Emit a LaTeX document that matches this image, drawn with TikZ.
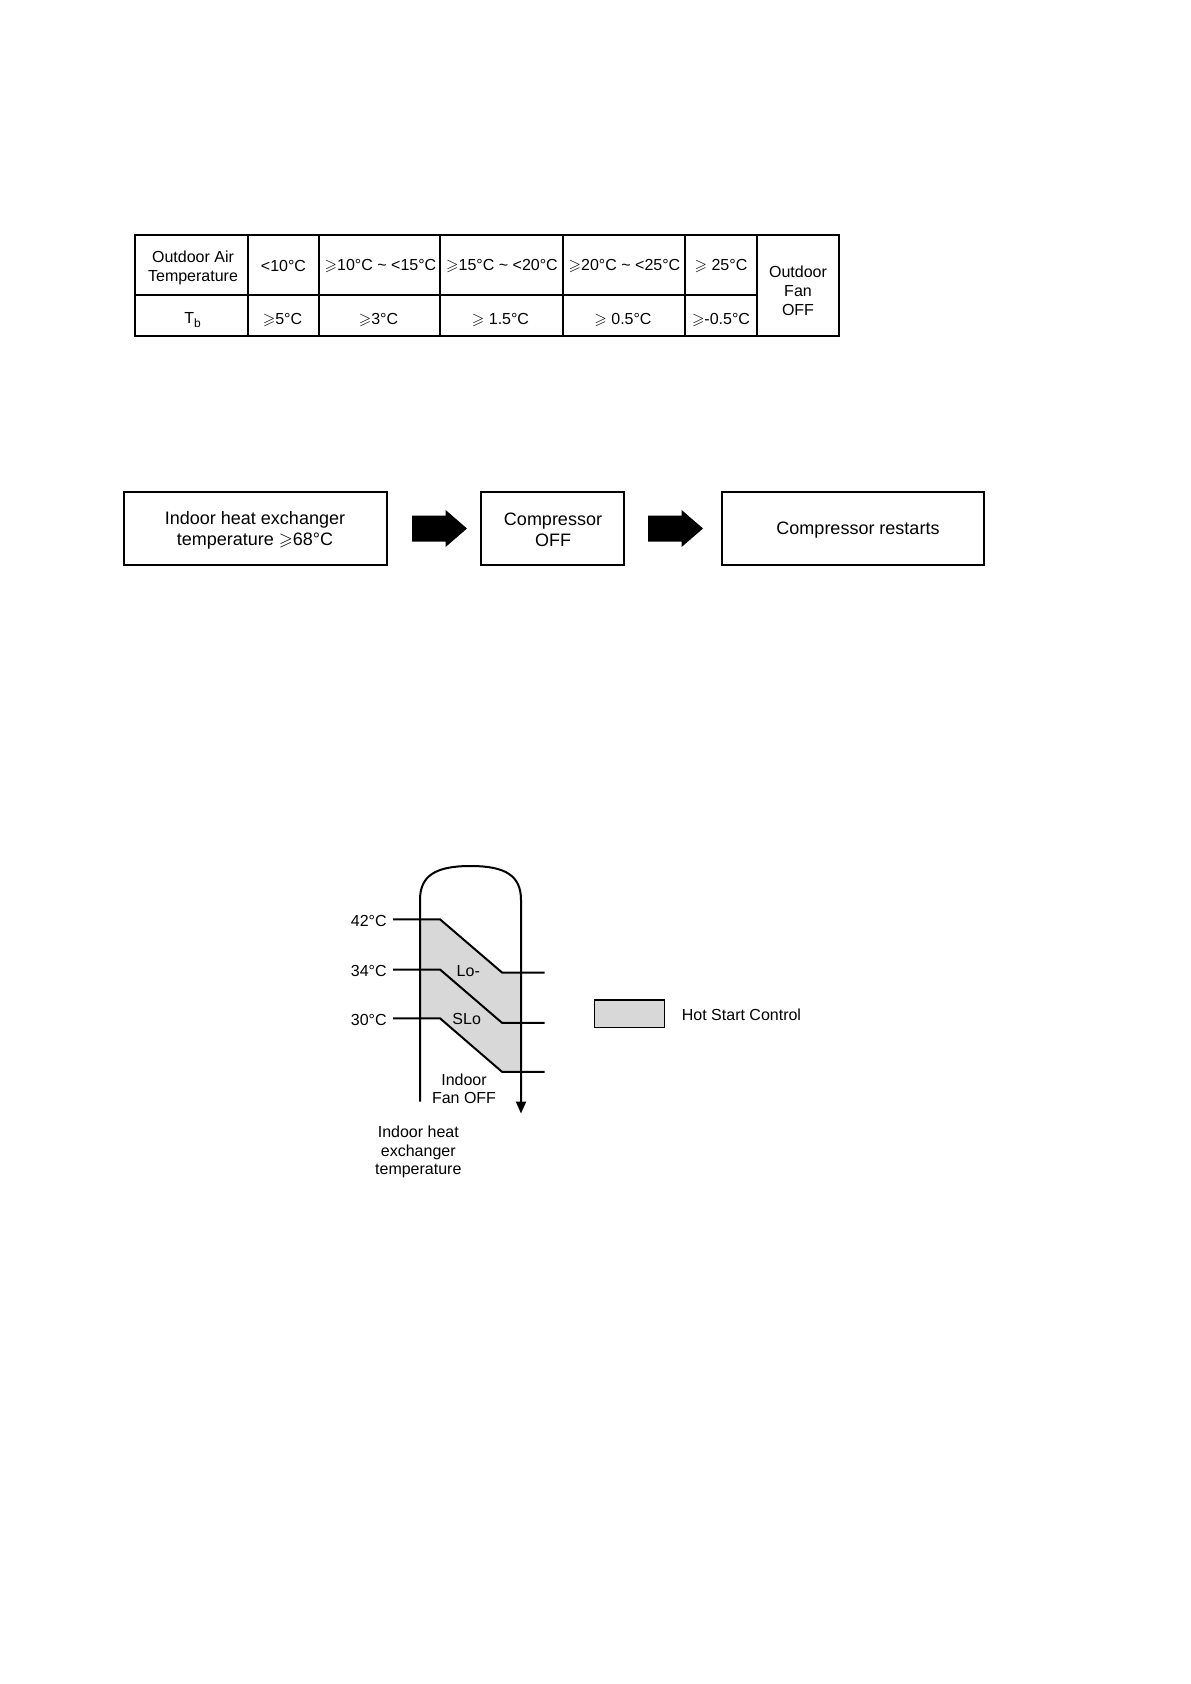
\documentclass[tikz,border=0pt]{standalone}
\usepackage{fontspec}
\usepackage{amssymb}
\setmainfont{Liberation Sans}
\usetikzlibrary{arrows.meta}
\newcommand{\gsl}{$\geqslant$}
\definecolor{hsgray}{RGB}{216,216,216}
\begin{document}
\begin{tikzpicture}[x=0.5pt,y=-0.5pt,
  tline/.style={line width=0.75pt},
  ttext/.style={font=\fontsize{8}{9.5}\selectfont, align=center, inner sep=0pt},
  flowbox/.style={draw, line width=1pt, minimum height=36.5pt, align=center,
     font=\fontsize{9}{10.5}\selectfont, inner sep=0pt},
  blockarrow/.style={fill=black, draw=none},
  cline/.style={line width=1pt},
  clabel/.style={font=\fontsize{8}{9.2}\selectfont, align=center, inner sep=0pt}]
\useasboundingbox (0,0) rectangle (1190,1684);
\fill[white] (0,0) rectangle (1190,1684);

% ---------- table ----------
\draw[tline] (135,235) rectangle (839,336);
\draw[tline] (135,295) -- (757,295);
\foreach \x in {248,319,440,563,685,757} \draw[tline] (\x,235) -- (\x,336);

\node[ttext] (h0) at (193,267.5) {Outdoor Air\\Temperature};
\node[ttext] (h1) at (283.5,266) {<10°C};
\node[ttext] (h2) at (380.5,266) {\gsl10°C \textasciitilde{} <15°C};
\node[ttext] (h3) at (502,266) {\gsl15°C \textasciitilde{} <20°C};
\node[ttext] (h4) at (624.5,266) {\gsl20°C \textasciitilde{} <25°C};
\node[ttext] (h5) at (721,266) {\gsl{} 25°C};
\node[ttext] (h6) at (798,290.5) {Outdoor\\Fan\\OFF};
\node[ttext] (r0) at (193,320) {T\textsubscript{b}};
\node[ttext] (r1) at (282.5,320) {\gsl5°C};
\node[ttext] (r2) at (378.5,320) {\gsl3°C};
\node[ttext] (r3) at (500.5,320) {\gsl{} 1.5°C};
\node[ttext] (r4) at (623,320) {\gsl{} 0.5°C};
\node[ttext] (r5) at (721,320) {\gsl-0.5°C};

% ---------- flow ----------
\node[flowbox, minimum width=131.5pt] (b1) at (255,528.5) {};
\node[font=\fontsize{9}{10.5}\selectfont, align=center, inner sep=0pt] (b1t) at (255,530.5) {Indoor heat exchanger\\temperature \gsl68°C};
\node[flowbox, minimum width=71.5pt] (b2) at (552.5,528.5) {};
\node[font=\fontsize{9}{10.5}\selectfont, align=center, inner sep=0pt] (b2t) at (553,530) {Compressor\\OFF};
\node[flowbox, minimum width=131pt] (b3) at (852.7,528.5) {};
\node[font=\fontsize{9}{10.5}\selectfont, align=center, inner sep=0pt] (b3t) at (858,530) {Compressor restarts};

\fill[blockarrow] (412,515.5) -- (445.6,515.5) -- (445.6,510) -- (467,528.5) -- (445.6,547) -- (445.6,541.5) -- (412,541.5) -- cycle;
\fill[blockarrow] (648,515.5) -- (681.6,515.5) -- (681.6,510) -- (703,528.5) -- (681.6,547) -- (681.6,541.5) -- (648,541.5) -- cycle;

% ---------- hot start chart ----------
\fill[hsgray] (420,919.3) -- (440,919.3) -- (502,972.5) -- (521,972.5) -- (521,1071.8) -- (502,1071.8) -- (440,1018.3) -- (420,1018.3) -- cycle;

\draw[cline, -{Triangle[length=6pt,width=5pt]}] (420,1101.5) -- (420,900)
   .. controls (420,876) and (435,866) .. (470.5,866)
   .. controls (506,866) and (521,876) .. (521,900) -- (521,1113.5);

\draw[cline] (393,919.3) -- (440,919.3) -- (502,972.5) -- (544.5,972.5);
\draw[cline] (393,969.5) -- (440,969.5) -- (502,1022.8) -- (544.5,1022.8);
\draw[cline] (393,1018.3) -- (440,1018.3) -- (502,1071.8) -- (544.5,1071.8);

\node[clabel, anchor=east] (t42) at (387,921) {42°C};
\node[clabel, anchor=east] (t34) at (387,970.5) {34°C};
\node[clabel, anchor=east] (t30) at (387,1019.5) {30°C};
\node[clabel] (lo) at (468.3,971) {Lo-};
\node[clabel] (slo) at (466.7,1019) {SLo};
\node[clabel, font=\fontsize{8}{9}\selectfont] (fanoff) at (464,1088.5) {Indoor\\Fan OFF};
\node[clabel] (axis) at (418.3,1152) {Indoor heat\\exchanger\\temperature};

\node[draw, line width=0.75pt, fill=hsgray, minimum width=35pt, minimum height=13.8pt, inner sep=0pt] (legend) at (629.3,1013.8) {};
\node[clabel, anchor=west] (legtext) at (681.5,1014.5) {Hot Start Control};
\end{tikzpicture}
\end{document}
